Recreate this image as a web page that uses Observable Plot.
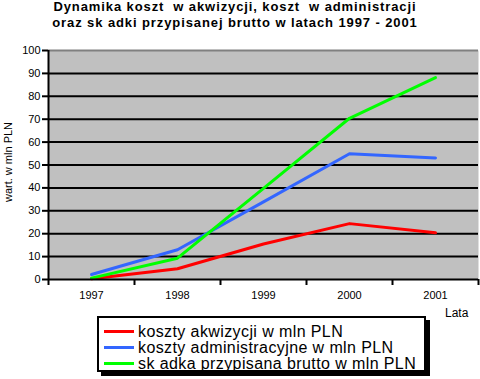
<!DOCTYPE html>
<html>
<head>
<meta charset="utf-8">
<script src="https://cdn.jsdelivr.net/npm/d3@7"></script>
<script src="https://cdn.jsdelivr.net/npm/@observablehq/plot@0.6"></script>
<style>
  body { margin: 0; background: #fff; font-family: "Liberation Sans", Arial, sans-serif; }
  #wrap { position: relative; width: 480px; height: 379px; overflow: hidden; background: #fff; }
  #wrap svg { position: absolute; left: 0; top: 0; }
  #title { position: absolute; left: 0; top: -1px; width: 470px; text-align: center; font-weight: bold; font-size: 13px; line-height: 16px; letter-spacing: 0.9px; color: #000; }
  #ylab { position: absolute; left: 8px; top: 162px; transform: translate(-50%, -50%) rotate(-90deg); font-size: 11px; white-space: nowrap; }
  #xlab { position: absolute; left: 445px; top: 306px; font-size: 12px; }
  #legend { position: absolute; left: 97px; top: 316px; width: 325px; height: 52px; border: 2px solid #000; background: #fff; box-shadow: 4px 4px 0 #000; padding: 0; }
  .item { position: absolute; left: 5px; height: 17px; display: flex; align-items: center; font-size: 16px; letter-spacing: 0.4px; white-space: nowrap; }
  .sw { width: 30px; height: 3px; margin-right: 4px; }
</style>
</head>
<body>
<div id="wrap"></div>
<script>
const years = [1997, 1998, 1999, 2000, 2001];
const akwizycja = [0.3, 4.7, 15.5, 24.4, 20.4];
const administracja = [2.2, 13.0, 33.9, 54.9, 53.1];
const skladka = [0.6, 9.3, 39.8, 70.4, 88.2];
const seriesNames = [
  "koszty akwizycji w mln PLN",
  "koszty administracyjne w mln PLN",
  "sk adka przypisana brutto w mln PLN"
];
const seriesColors = ["#ff0000", "#3366ff", "#00ff00"];
const yTicks = [0, 10, 20, 30, 40, 50, 60, 70, 80, 90, 100];
const titleLines = [
  "Dynamika koszt  w akwizycji, koszt  w administracji",
  "oraz sk adki przypisanej brutto w latach 1997 - 2001"
];
const yLabel = "wart. w mln PLN";
const xLabel = "Lata";

const seriesValues = [akwizycja, administracja, skladka];
const rows = [];
seriesValues.forEach((vals, s) => vals.forEach((v, i) => rows.push({year: years[i], value: v, series: seriesNames[s]})));
const boundaries = [years[0] - 0.5, ...years.map(y => y + 0.5)];

const plot = Plot.plot({
  width: 480,
  height: 379,
  marginTop: 50,
  marginBottom: 100,
  marginLeft: 48,
  marginRight: 2,
  style: {background: "transparent", fontFamily: "Liberation Sans, Arial, sans-serif", fontSize: "11px", color: "#000"},
  x: {type: "linear", domain: [boundaries[0], boundaries[boundaries.length - 1]]},
  y: {domain: [0, 100]},
  color: {domain: seriesNames, range: seriesColors},
  marks: [
    Plot.frame({fill: "#c0c0c0", stroke: null}),
    Plot.ruleY(yTicks.slice(1, -1), {stroke: "#000", strokeWidth: 2}),
    Plot.ruleY([yTicks[yTicks.length - 1]], {stroke: "#808080", strokeWidth: 2}),
    Plot.line(rows, {x: "year", y: "value", z: "series", stroke: "series", strokeWidth: 3, strokeLinejoin: "round"}),
    Plot.ruleY([0], {stroke: "#000", strokeWidth: 2}),
    Plot.ruleX([boundaries[0]], {stroke: "#000", strokeWidth: 2}),
    Plot.axisY({ticks: yTicks, tickSize: 6, tickPadding: 2, stroke: "#000", strokeWidth: 2, strokeOpacity: 1, fontSize: 11, label: null}),
    Plot.axisX({ticks: boundaries, tickSize: 6, tickFormat: () => "", stroke: "#000", strokeWidth: 2, strokeOpacity: 1, label: null}),
    Plot.axisX({ticks: years, tickSize: 0, tickPadding: 12, tickFormat: d => String(d), fontSize: 11, label: null})
  ]
});

const wrap = document.getElementById("wrap");
wrap.appendChild(plot);

const title = document.createElement("div");
title.id = "title";
titleLines.forEach(t => { const d = document.createElement("div"); d.style.whiteSpace = "pre"; d.textContent = t; title.appendChild(d); });
wrap.appendChild(title);

const yl = document.createElement("div");
yl.id = "ylab"; yl.textContent = yLabel; wrap.appendChild(yl);
const xl = document.createElement("div");
xl.id = "xlab"; xl.textContent = xLabel; wrap.appendChild(xl);

const legend = document.createElement("div");
legend.id = "legend";
seriesNames.forEach((n, i) => {
  const it = document.createElement("div");
  it.className = "item";
  it.style.top = (5 + i * 16) + "px";
  const sw = document.createElement("div");
  sw.className = "sw"; sw.style.background = seriesColors[i];
  const tx = document.createElement("span");
  tx.style.whiteSpace = "pre";
  tx.textContent = n;
  it.appendChild(sw); it.appendChild(tx);
  legend.appendChild(it);
});
wrap.appendChild(legend);
</script>
</body>
</html>
